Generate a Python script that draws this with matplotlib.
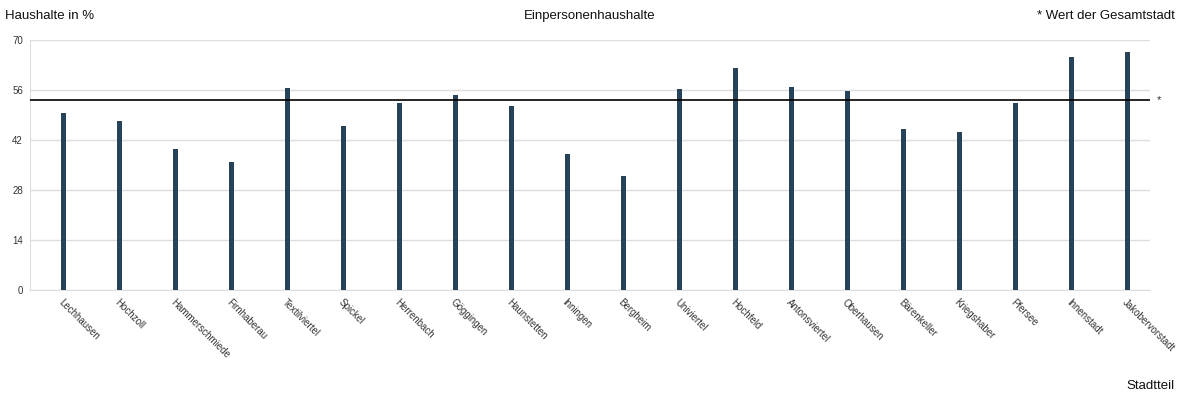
import numpy as np
import matplotlib
matplotlib.use("Agg")
from matplotlib import pyplot as plt

plt.rcParams['font.family'] = ['Liberation Sans', 'DejaVu Sans']

stadtteile = ["Lechhausen", "Hochzoll", "Hammerschmiede", "Firnhaberau", "Textilviertel",
              "Spickel", "Herrenbach", "Göggingen", "Haunstetten", "Inningen",
              "Bergheim", "Univiertel", "Hochfeld", "Antonsviertel", "Oberhausen",
              "Bärenkeller", "Kriegshaber", "Pfersee", "Innenstadt", "Jakobervorstadt"]
anteil = [49.6, 47.3, 39.5, 35.8, 56.6, 45.9, 52.4, 54.6, 51.5, 38.1,
          31.9, 56.3, 62.2, 56.8, 55.7, 45.1, 44.2, 52.4, 65.2, 66.6]
gesamtstadt = 53.2
yticks = [0, 14, 28, 42, 56, 70]

fig = plt.figure(figsize=(11.8, 3.97), dpi=100)
ax = fig.add_axes([30/1180, 1 - 290/397, 1120/1180, 250/397])

x = np.arange(len(stadtteile))
ax.bar(x, anteil, width=0.09, color='#27435a', zorder=3)
ax.axhline(gesamtstadt, color='black', lw=1.2, zorder=4)

ax.set_xlim(-0.6, 19.4)
ax.set_ylim(0, 70)
ax.set_yticks(yticks)
ax.set_yticklabels([str(t) for t in yticks], fontsize=7, color='#333333')
ax.yaxis.grid(True, color='#dddddd', lw=1, zorder=0)
ax.tick_params(axis='both', length=0, pad=5)
ax.set_xticks(x)
ax.set_xticklabels([])
for s in ['top', 'right']:
    ax.spines[s].set_visible(False)
for s in ['left', 'bottom']:
    ax.spines[s].set_color('#dddddd')

for xi, name in zip(x, stadtteile):
    ax.annotate(name, (xi, 0), xytext=(0, -5), textcoords='offset points',
                rotation=-45, ha='left', va='top', rotation_mode='anchor',
                fontsize=7, color='#333333', annotation_clip=False)

ax.annotate('*', (1, gesamtstadt), xycoords=('axes fraction', 'data'),
            xytext=(5, 0), textcoords='offset points', ha='left', va='center',
            fontsize=8, color='#333333')

fig.text(5/1180, 1 - 16/397, 'Haushalte in %', fontsize=9.5, ha='left', va='center', color='#111111')
fig.text(590/1180, 1 - 16/397, 'Einpersonenhaushalte', fontsize=9.5, ha='center', va='center', color='#111111')
fig.text(1175/1180, 1 - 16/397, '* Wert der Gesamtstadt', fontsize=9.5, ha='right', va='center', color='#111111')
fig.text(1175/1180, 1 - 386/397, 'Stadtteil', fontsize=9.5, ha='right', va='center', color='#111111')

fig.savefig('out.png', dpi=100)
